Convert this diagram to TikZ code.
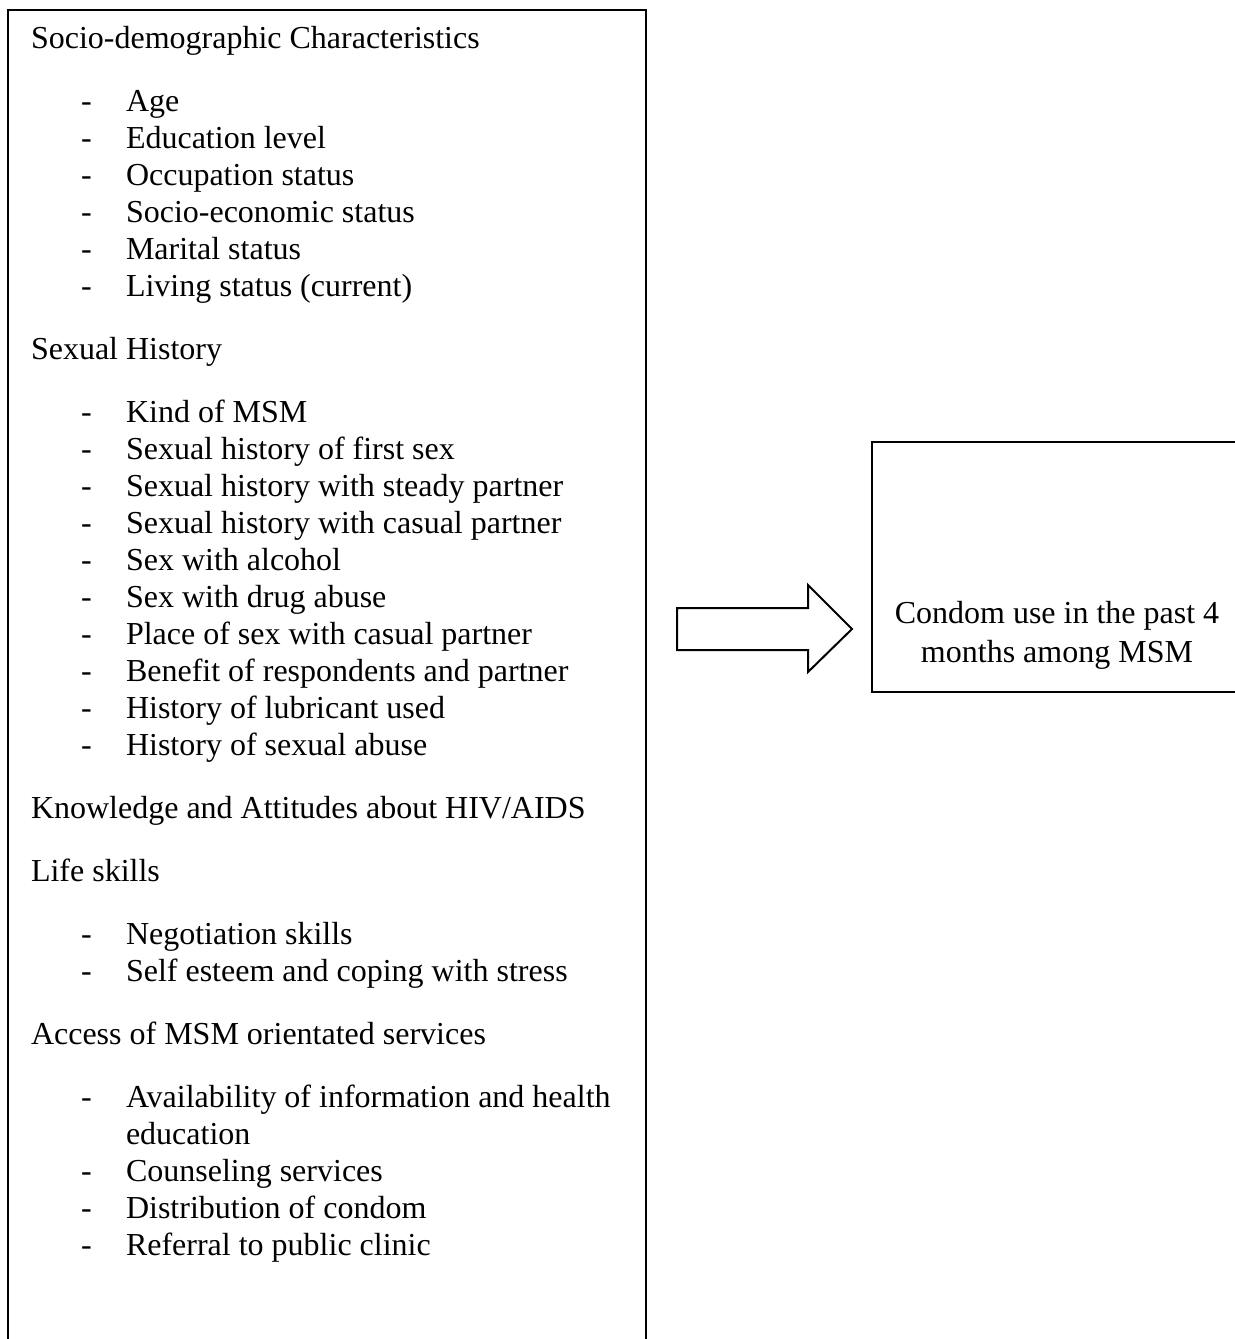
\documentclass[tikz,border=0pt]{standalone}
\usepackage{fontspec}
\setmainfont{Liberation Serif}
\begin{document}
\begin{tikzpicture}[x=0.375pt,y=-0.375pt,line width=0.75pt,
  txt/.style={anchor=base west,inner sep=0pt,font=\fontsize{12}{13.8}\selectfont},
  ctxt/.style={anchor=base,inner sep=0pt,font=\fontsize{12}{13.8}\selectfont},
  boxline/.style={draw=black,line width=0.75pt},
  blockarrow/.style={draw=black,line width=0.75pt,fill=white}]
\useasboundingbox (0,0) rectangle (1235,1339);
\clip (0,0) rectangle (1235,1339);
% left box
\draw[boxline] (8,10) rectangle (646,1400);
% headings
\node[txt] (h1) at (30,48) {Socio-demographic Characteristics};
\node[txt] (h2) at (30,359) {Sexual History};
\node[txt] (h3) at (30,818) {Knowledge and Attitudes about HIV/AIDS};
\node[txt] (h4) at (30,881) {Life skills};
\node[txt] (h5) at (30,1044) {Access of MSM orientated services};
% items
\foreach \y/\t [count=\i] in {
  111/Age,
  148/Education level,
  185/Occupation status,
  222/Socio-economic status,
  259/Marital status,
  296/Living status (current),
  422/Kind of MSM,
  459/Sexual history of first sex,
  496/Sexual history with steady partner,
  533/Sexual history with casual partner,
  570/Sex with alcohol,
  607/Sex with drug abuse,
  644/Place of sex with casual partner,
  681/Benefit of respondents and partner,
  718/History of lubricant used,
  755/History of sexual abuse,
  944/Negotiation skills,
  981/Self esteem and coping with stress,
  1107/Availability of information and health,
  1181/Counseling services,
  1218/Distribution of condom,
  1255/Referral to public clinic}{
  \node[txt] (d\i) at (80,\y) {-};
  \node[txt] (it\i) at (125,\y) {\t};
}
\node[txt] (it19b) at (125,1144) {education};
% right box
\draw[boxline] (872,442) rectangle (1260,692);
\node[ctxt] (o1) at (1057,623) {Condom use in the past 4};
\node[ctxt] (o2) at (1057,662) {months among MSM};
% block arrow
\draw[blockarrow] (677,608) -- (808,608) -- (808,585) -- (852,629) -- (808,672) -- (808,650) -- (677,650) -- cycle;
\end{tikzpicture}
\end{document}
